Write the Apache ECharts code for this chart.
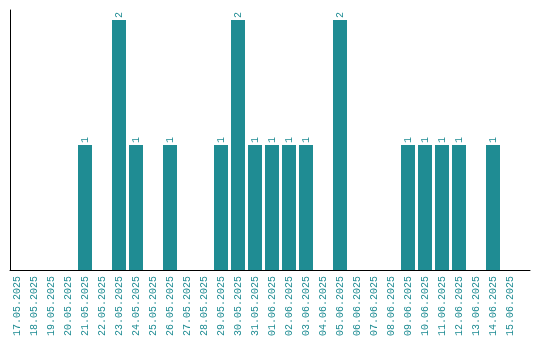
<!DOCTYPE html>
<html>
<head>
<meta charset="utf-8">
<script src="https://cdn.jsdelivr.net/npm/echarts@6/dist/echarts.min.js"></script>
<style>html,body{margin:0;padding:0;background:#fff}#c{width:540px;height:340px}</style>
</head>
<body>
<div id="c"></div>
<script>
var categories = ['17.05.2025','18.05.2025','19.05.2025','20.05.2025','21.05.2025','22.05.2025','23.05.2025','24.05.2025','25.05.2025','26.05.2025','27.05.2025','28.05.2025','29.05.2025','30.05.2025','31.05.2025','01.06.2025','02.06.2025','03.06.2025','04.06.2025','05.06.2025','06.06.2025','07.06.2025','08.06.2025','09.06.2025','10.06.2025','11.06.2025','12.06.2025','13.06.2025','14.06.2025','15.06.2025'];
var values = [0,0,0,0,1,0,2,1,0,1,0,0,1,2,1,1,1,1,0,2,0,0,0,1,1,1,1,0,1,0];

var teal = '#1f8c93';
var chart = echarts.init(document.getElementById('c'), null, {renderer: 'canvas'});
chart.setOption({
  animation: false,
  grid: [
    {left: 8.5, top: 10, width: 510, height: 260},
    {left: 10, top: 10, width: 520, height: 260}
  ],
  xAxis: [
    {
      type: 'category', gridIndex: 0, data: categories,
      axisLine: {show: false}, axisTick: {show: false}, splitLine: {show: false},
      axisLabel: {interval: 0, rotate: 90, margin: 6, color: teal, fontFamily: 'Liberation Mono', fontSize: 10}
    },
    {
      type: 'value', gridIndex: 1, min: 0, max: 1,
      axisLine: {show: true, lineStyle: {color: '#000', width: 1}},
      axisTick: {show: false}, axisLabel: {show: false}, splitLine: {show: false}
    }
  ],
  yAxis: [
    {
      type: 'value', gridIndex: 0, min: 0, max: 2.08,
      axisLine: {show: false}, axisTick: {show: false}, axisLabel: {show: false}, splitLine: {show: false}
    },
    {
      type: 'value', gridIndex: 1, min: 0, max: 1,
      axisLine: {show: true, lineStyle: {color: '#000', width: 1}},
      axisTick: {show: false}, axisLabel: {show: false}, splitLine: {show: false}
    }
  ],
  series: [{
    type: 'bar', xAxisIndex: 0, yAxisIndex: 0,
    data: values, barWidth: 14,
    itemStyle: {color: teal},
    label: {
      show: true, position: 'top', rotate: 90, align: 'left', verticalAlign: 'middle', distance: 2,
      color: teal, fontFamily: 'Liberation Mono', fontSize: 10,
      formatter: function (p) { return p.value ? String(p.value) : ''; }
    }
  }]
});
</script>
</body>
</html>
